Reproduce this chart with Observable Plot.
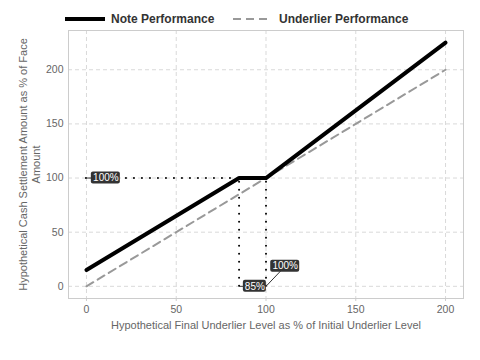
<!DOCTYPE html>
<html>
<head>
<meta charset="utf-8">
<script src="https://cdn.jsdelivr.net/npm/d3@7"></script>
<script src="https://cdn.jsdelivr.net/npm/@observablehq/plot@0.6"></script>
<style>
  body { margin: 0; background: #fff; font-family: "Liberation Sans", Arial, sans-serif; }
  #legend { position: relative; height: 28px; width: 480px; }
  #legend .item { position: absolute; top: 12px; display: flex; align-items: center; font-weight: bold; font-size: 12px; color: #333; line-height: 14px; }
  #legend svg { margin-right: 6px; }
  #chart svg { overflow: visible; }
</style>
</head>
<body>
<div id="legend">
  <div class="item" style="left:65px"><svg width="40" height="8"><line x1="0" x2="40" y1="4" y2="4" stroke="#000" stroke-width="4"/></svg>Note Performance</div>
  <div class="item" style="left:233px"><svg width="40" height="8"><line x1="0" x2="36" y1="4" y2="4" stroke="#999" stroke-width="2" stroke-dasharray="8,5"/></svg>Underlier Performance</div>
</div>
<div id="chart"></div>
<script>
// Data
const levels = [0, 85, 100, 200];
const notePerf = [15, 100, 100, 225];
const underLevels = [0, 200];
const underPerf = [0, 200];
const xTicks = [0, 50, 100, 150, 200];
const yTicks = [0, 50, 100, 150, 200];
const annX = [0, 85, 100];
const annY = [100, 0, 0];
const annLabelX = [10.8, 93.8, 110.7];
const annLabelY = [100, 0, 18.6];
const annText = ["100%", "85%", "100%"];
const xLabel = "Hypothetical Final Underlier Level as % of Initial Underlier Level";
const yLabel = "Hypothetical Cash Settlement Amount as % of Face\nAmount";

const noteData = levels.map((x, i) => ({x, y: notePerf[i]}));
const underData = underLevels.map((x, i) => ({x, y: underPerf[i]}));
const anns = annX.map((x, i) => ({x, y: annY[i], lx: annLabelX[i], ly: annLabelY[i], t: annText[i]}));

const boxes = anns.map(a => {
  const w = a.t.length * 3 + 2.5;
  return Plot.rect([a], {x1: "lx", x2: "lx", y1: "ly", y2: "ly",
    insetLeft: -w, insetRight: -w, insetTop: -6, insetBottom: -6, rx: 2, fill: "#333"});
});

const chart = Plot.plot({
  width: 480,
  height: 332,
  marginLeft: 68,
  marginRight: 17,
  marginTop: 2,
  marginBottom: 62,
  style: {fontFamily: "Liberation Sans, Arial, sans-serif", background: "#fff"},
  x: {domain: [-10, 210]},
  y: {domain: [-11.25, 236.25]},
  marks: [
    Plot.gridX(xTicks, {stroke: "#d9d9d9", strokeOpacity: 1, strokeDasharray: "4,3"}),
    Plot.gridY(yTicks, {stroke: "#d9d9d9", strokeOpacity: 1, strokeDasharray: "4,3"}),
    Plot.frame({stroke: "#cccccc"}),
    Plot.axisX(xTicks, {tickSize: 3, tickPadding: 4, stroke: "#cccccc", color: "#666", fontSize: 10.5, label: null}),
    Plot.axisY(yTicks, {tickSize: 0, tickPadding: 5, color: "#666", fontSize: 10.5, label: null}),
    Plot.text([xLabel], {frameAnchor: "bottom", dy: 30, fill: "#666", fontSize: 11}),
    Plot.text([yLabel], {frameAnchor: "left", textAnchor: "middle", dx: -39, rotate: -90, fill: "#666", fontSize: 11, lineHeight: 1.2}),
    Plot.ruleY([annY[0] ], {x1: annX[0], x2: annX[1], stroke: "#000", strokeWidth: 2, strokeDasharray: "0,8", strokeLinecap: "round"}),
    Plot.ruleX([annX[1], annX[2]], {y1: 0, y2: annY[0], stroke: "#000", strokeWidth: 2, strokeDasharray: "0,8", strokeLinecap: "round"}),
    Plot.line(underData, {x: "x", y: "y", stroke: "#999", strokeWidth: 2, strokeDasharray: "8,5"}),
    Plot.line(noteData, {x: "x", y: "y", stroke: "#000", strokeWidth: 4}),
    Plot.link(anns, {x1: "x", y1: "y", x2: "lx", y2: "ly", stroke: "#333", strokeWidth: 1}),
    ...boxes,
    Plot.text(anns, {x: "lx", y: "ly", text: "t", fill: "#fff", fontSize: 10})
  ]
});
document.getElementById("chart").appendChild(chart);
</script>
</body>
</html>
